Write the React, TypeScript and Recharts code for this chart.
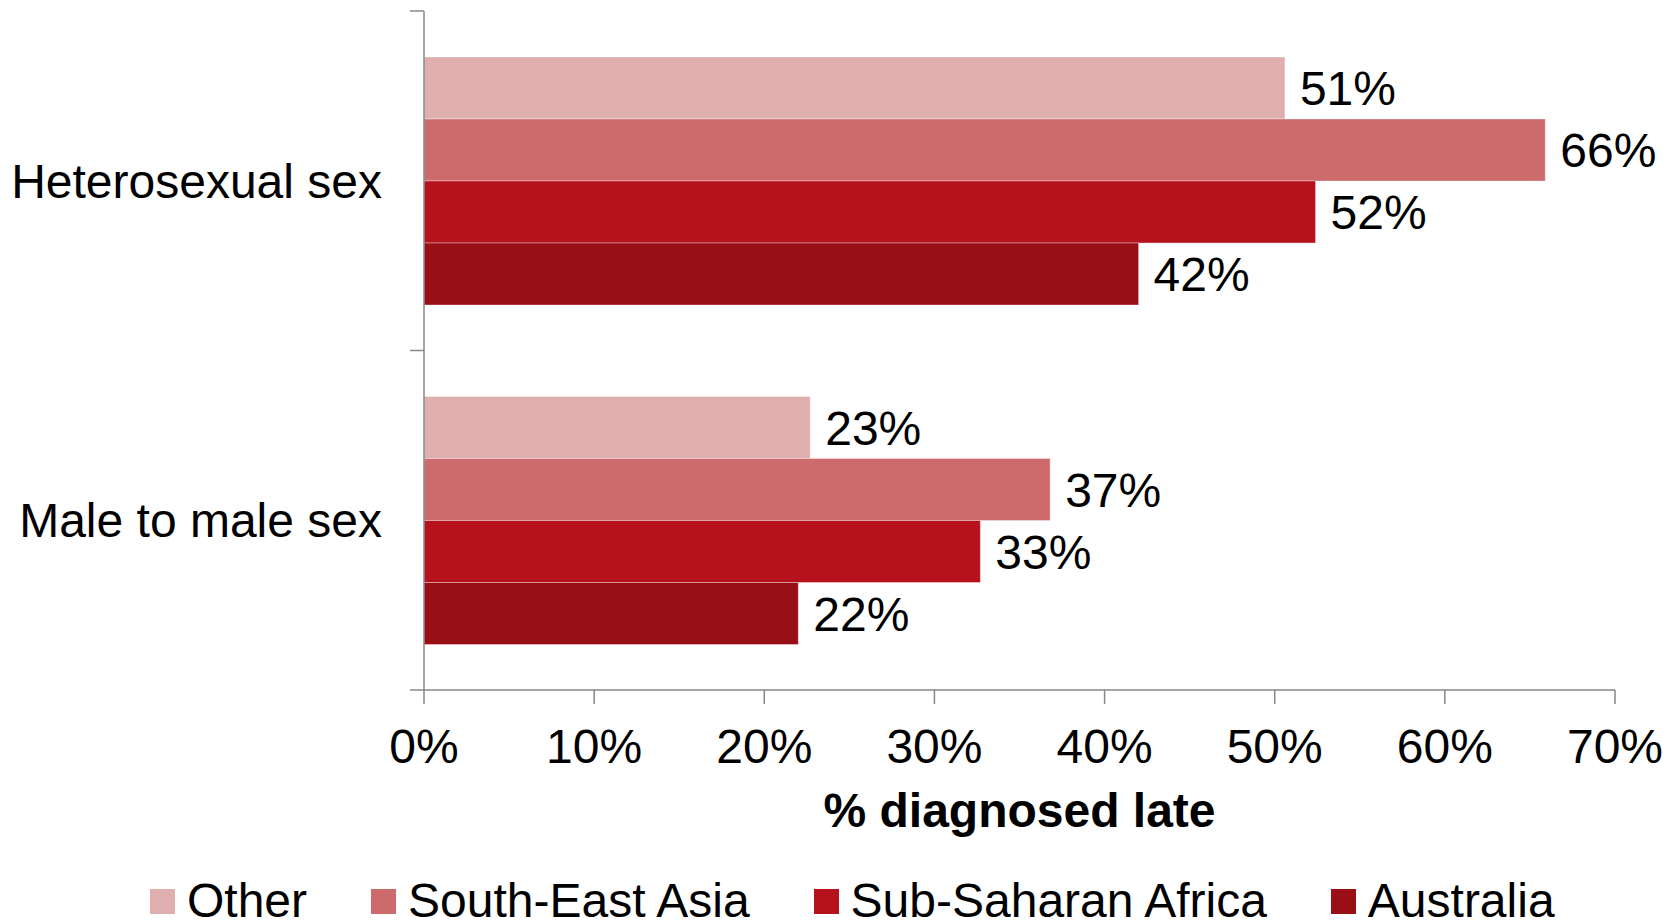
import { BarChart, Bar, XAxis, YAxis, Legend, LabelList, Label } from "recharts";

const categories = ["Heterosexual sex", "Male to male sex"];
const seriesNames = ["Other", "South-East Asia", "Sub-Saharan Africa", "Australia"];
const seriesKeys = ["other", "sea", "ssa", "aus"];
const seriesColors = ["#DFAFAF", "#CD6A6B", "#B5121E", "#990F16"];

// % diagnosed late, per exposure category
const other = [50.6, 22.7];
const southEastAsia = [65.9, 36.8];
const subSaharanAfrica = [52.4, 32.7];
const australia = [42.0, 22.0];

const xTicks = [0, 10, 20, 30, 40, 50, 60, 70];

const FONT = "'Liberation Sans', Arial, sans-serif";
const AXIS_GREY = "#878787";
const FS = 48;

const data = categories.map((name, i) => ({
  name,
  other: other[i],
  sea: southEastAsia[i],
  ssa: subSaharanAfrica[i],
  aus: australia[i],
}));

// category label plus Excel-style tick marks on the band edges
function CategoryTick(props: any) {
  const { x, y, payload, index, visibleTicksCount } = props;
  const half = payload?.offset ?? 169.75;
  const axisX = x + 28 + 14;
  return (
    <g>
      <line x1={axisX - 14} x2={axisX} y1={y - half} y2={y - half} stroke={AXIS_GREY} strokeWidth={1.5} />
      {index === visibleTicksCount - 1 && (
        <line x1={axisX - 14} x2={axisX} y1={y + half} y2={y + half} stroke={AXIS_GREY} strokeWidth={1.5} />
      )}
      <text x={x} y={y} dy={FS * 0.355} textAnchor="end" fontSize={FS} fontFamily={FONT} fill="#000">
        {payload.value}
      </text>
    </g>
  );
}

function LegendContent() {
  return (
    <div style={{ display: "flex", alignItems: "center", gap: 64, fontFamily: FONT }}>
      {seriesNames.map((n, i) => (
        <div key={n} style={{ display: "flex", alignItems: "center" }}>
          <div style={{ width: 25, height: 25, background: seriesColors[i], marginRight: 12 }} />
          <span style={{ fontSize: FS, lineHeight: `${FS}px`, color: "#000", whiteSpace: "nowrap" }}>{n}</span>
        </div>
      ))}
    </div>
  );
}

export default function App() {
  return (
    <div style={{ position: "absolute", left: 0, top: 0, width: 1677, height: 923, overflow: "hidden", background: "#fff" }}>
      <BarChart
        width={1677}
        height={923}
        data={data}
        layout="vertical"
        margin={{ top: 11, right: 62, left: 0, bottom: 0 }}
        barCategoryGap={46}
        barGap={0}
      >
        <XAxis
          type="number"
          domain={[0, 70]}
          ticks={xTicks}
          interval={0}
          tickFormatter={(v: number) => `${v}%`}
          height={233}
          tickSize={14}
          tickMargin={25}
          stroke={AXIS_GREY}
          axisLine={{ stroke: AXIS_GREY, strokeWidth: 1.5 }}
          tickLine={{ stroke: AXIS_GREY, strokeWidth: 1.5 }}
          tick={{ fill: "#000", fontSize: FS, fontFamily: FONT }}
        >
          <Label
            content={(p: any) => {
              const vb = p.viewBox || {};
              return (
                <text
                  x={vb.x + vb.width / 2}
                  y={vb.y + 137}
                  textAnchor="middle"
                  fontSize={FS}
                  fontWeight="bold"
                  fontFamily={FONT}
                  fill="#000"
                >
                  % diagnosed late
                </text>
              );
            }}
          />
        </XAxis>
        <YAxis
          type="category"
          dataKey="name"
          width={424}
          tickSize={14}
          tickMargin={28}
          tickLine={false}
          interval={0}
          axisLine={{ stroke: AXIS_GREY, strokeWidth: 1.5 }}
          tick={CategoryTick}
        />
        <Legend
          layout="horizontal"
          verticalAlign="middle"
          align="center"
          wrapperStyle={{ top: 877, left: 150, width: "auto" }}
          content={LegendContent}
        />
        {seriesKeys.map((k, i) => (
          <Bar
            key={k}
            dataKey={k}
            name={seriesNames[i]}
            fill={seriesColors[i]}
            stroke="rgba(255,255,255,0.35)"
            strokeWidth={1}
            isAnimationActive={false}
          >
            <LabelList
              dataKey={k}
              position="right"
              offset={15}
              formatter={(v: any) => `${Math.round(Number(v))}%`}
              fill="#000"
              fontSize={FS}
              fontFamily={FONT}
            />
          </Bar>
        ))}
      </BarChart>
    </div>
  );
}
